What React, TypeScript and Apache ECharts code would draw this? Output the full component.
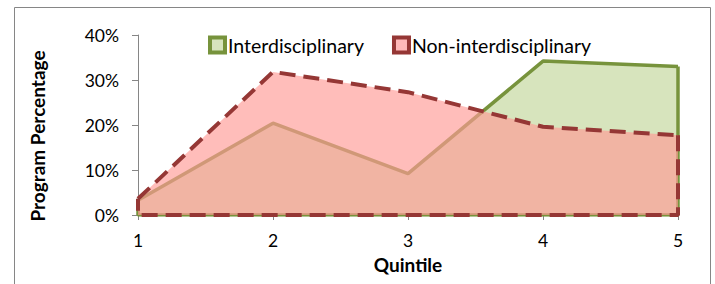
import React, { useEffect, useRef } from "react";
import * as echarts from "echarts";

const quintiles = [1, 2, 3, 4, 5];
const interdisciplinary = [3.3, 20.4, 9.2, 34.2, 33.0];
const nonInterdisciplinary = [3.6, 31.8, 27.3, 19.6, 17.7];
const yTicks = [0, 10, 20, 30, 40];

const FONT = "Lato, 'Noto Sans', sans-serif";

export default function App() {
  const ref = useRef<HTMLDivElement>(null);
  useEffect(() => {
    document.body.style.margin = "0";
    if (!ref.current) return;
    const chart = echarts.init(ref.current, undefined, { renderer: "svg" });
    const pts = (vals: number[]) => quintiles.map((q, i) => [q, vals[i]]);
    const outline = (vals: number[]) => {
      const n = quintiles.length - 1;
      return [
        [quintiles[n], vals[n]],
        [quintiles[n], 0],
        [quintiles[0], 0],
        [quintiles[0], vals[0]],
      ];
    };
    const green = "#77933c";
    const greenFill = "#d7e4bd";
    const red = "#953735";
    const redFill = "rgba(255,155,150,0.66)";
    chart.setOption({
      animation: false,
      textStyle: { fontFamily: FONT },
      graphic: [
        {
          type: "rect",
          shape: { x: 14.5, y: 7.5, width: 696, height: 300 },
          style: { fill: "none", stroke: "#868686", lineWidth: 1 },
          silent: true,
        },
        {
          type: "text",
          x: 37,
          y: 136,
          rotation: Math.PI / 2,
          style: {
            text: "Program Percentage",
            fontFamily: FONT,
            fontSize: 19,
            fontWeight: "bold",
            fill: "#000",
            align: "center",
            verticalAlign: "middle",
          },
          silent: true,
        },
      ],
      legend: {
        left: 203,
        top: 30,
        itemWidth: 15,
        itemHeight: 15,
        itemGap: 28,
        icon: "rect",
        textStyle: { fontFamily: FONT, fontSize: 19.5, color: "#000", padding: [0, 0, 0, -2] },
        data: [
          {
            name: "Interdisciplinary",
            itemStyle: { color: greenFill, borderColor: green, borderWidth: 4 },
          },
          {
            name: "Non-interdisciplinary",
            itemStyle: { color: "#ffb9b9", borderColor: red, borderWidth: 4 },
          },
        ],
      },
      grid: { left: 138, right: 37, top: 35, bottom: 69, containLabel: false },
      xAxis: {
        type: "value",
        min: 1,
        max: 5,
        interval: 1,
        name: "Quintile",
        nameLocation: "middle",
        nameGap: 40,
        nameTextStyle: { fontFamily: FONT, fontSize: 19, fontWeight: "bold", color: "#000" },
        axisLine: { show: true, lineStyle: { color: "#868686", width: 1 } },
        axisTick: { show: true, length: 5, lineStyle: { color: "#868686" } },
        axisLabel: { fontFamily: FONT, fontSize: 17.5, color: "#000", margin: 16 },
        splitLine: { show: false },
      },
      yAxis: {
        type: "value",
        min: 0,
        max: 40,
        interval: 10,
        axisLine: { show: true, lineStyle: { color: "#868686", width: 1 } },
        axisTick: { show: true, length: 6, lineStyle: { color: "#868686" } },
        axisLabel: {
          fontFamily: FONT,
          fontSize: 17.5,
          color: "#000",
          margin: 19,
          formatter: (v: number) => (yTicks.includes(v) ? `${v}%` : ""),
        },
        splitLine: { show: false },
      },
      series: [
        {
          name: "Interdisciplinary",
          type: "line",
          z: 2,
          data: pts(interdisciplinary),
          symbol: "none",
          lineStyle: { color: green, width: 3.5 },
          itemStyle: { color: green },
          areaStyle: { color: greenFill, opacity: 1 },
        },
        {
          name: "Interdisciplinary outline",
          type: "line",
          z: 2,
          data: outline(interdisciplinary),
          symbol: "none",
          lineStyle: { color: green, width: 3.5 },
          itemStyle: { color: green },
        },
        {
          name: "Non-interdisciplinary",
          type: "line",
          z: 3,
          data: pts(nonInterdisciplinary),
          symbol: "none",
          lineStyle: { color: red, width: 4, type: [16, 8] },
          itemStyle: { color: red },
          areaStyle: { color: redFill, opacity: 1 },
        },
        {
          name: "Non-interdisciplinary outline",
          type: "line",
          z: 3,
          data: outline(nonInterdisciplinary),
          symbol: "none",
          lineStyle: { color: red, width: 4, type: [16, 8] },
          itemStyle: { color: red },
        },
      ],
    });
    return () => chart.dispose();
  }, []);
  return <div ref={ref} style={{ width: 715, height: 284 }} />;
}
